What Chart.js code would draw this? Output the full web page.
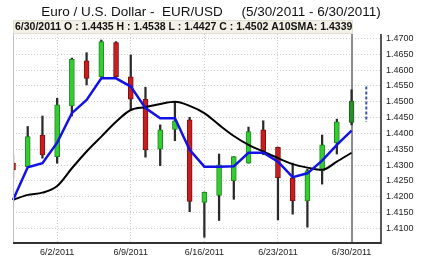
<!DOCTYPE html>
<html>
<head>
<meta charset="utf-8">
<script src="https://cdn.jsdelivr.net/npm/chart.js@4.4.1/dist/chart.umd.min.js"></script>
<style>
  html, body { margin: 0; padding: 0; background: #fff; }
  canvas { display: block; }
</style>
</head>
<body>
<canvas id="myChart" width="421" height="266"></canvas>
<script>
// trading days, plus two empty slots on the right
const dateLabels = ["5/30/2011", "5/31/2011", "6/1/2011", "6/2/2011", "6/3/2011",
    "6/6/2011", "6/7/2011", "6/8/2011", "6/9/2011", "6/10/2011",
    "6/13/2011", "6/14/2011", "6/15/2011", "6/16/2011", "6/17/2011",
    "6/20/2011", "6/21/2011", "6/22/2011", "6/23/2011", "6/24/2011",
    "6/27/2011", "6/28/2011", "6/29/2011", "6/30/2011", "7/1/2011", "7/4/2011"];
const tickLabels = ["6/2/2011", "6/9/2011", "6/16/2011", "6/23/2011", "6/30/2011"];

const openValues  = [1.4306, 1.4295, 1.4395, 1.4327, 1.4487, 1.4629, 1.4579, 1.4687, 1.4579, 1.4508,
    1.4350, 1.4413, 1.4443, 1.4182, 1.4204, 1.4251, 1.4306, 1.4411, 1.4356, 1.4260,
    1.4187, 1.4282, 1.4371, 1.4435];
const highValues  = [1.4332, 1.4422, 1.4455, 1.4511, 1.4638, 1.4655, 1.4695, 1.4690, 1.4648, 1.4546,
    1.4427, 1.4500, 1.4451, 1.4215, 1.4335, 1.4327, 1.4420, 1.4440, 1.4357, 1.4306,
    1.4287, 1.4395, 1.4445, 1.4538];
const lowValues   = [1.4260, 1.4295, 1.4322, 1.4306, 1.4455, 1.4553, 1.4579, 1.4579, 1.4474, 1.4325,
    1.4298, 1.4377, 1.4153, 1.4072, 1.4125, 1.4192, 1.4306, 1.4333, 1.4127, 1.4145,
    1.4104, 1.4240, 1.4335, 1.4427];
const closeValues = [1.4285, 1.4390, 1.4332, 1.4490, 1.4634, 1.4574, 1.4690, 1.4579, 1.4508, 1.4348,
    1.4411, 1.4440, 1.4185, 1.4214, 1.4301, 1.4327, 1.4406, 1.4343, 1.4260, 1.4187,
    1.4282, 1.4364, 1.4437, 1.4502];

const fastAverage = [1.4190, 1.4293, 1.4306, 1.4371, 1.4464, 1.4506, 1.4574, 1.4574, 1.4548, 1.4480,
    1.4448, 1.4448, 1.4348, 1.4295, 1.4295, 1.4296, 1.4339, 1.4339, 1.4311, 1.4262,
    1.4274, 1.4314, 1.4364, 1.4409];
const sma10 = [1.4190, 1.4206, 1.4213, 1.4234, 1.4290, 1.4343, 1.4390, 1.4437, 1.4474, 1.4483,
    1.4493, 1.4500, 1.4487, 1.4464, 1.4427, 1.4392, 1.4364, 1.4343, 1.4322, 1.4303,
    1.4292, 1.4285, 1.4311, 1.4339];

const rangeMarker = [1.4548, 1.4436];

const titleText = "Euro / U.S. Dollar -  EUR/USD     (5/30/2011 - 6/30/2011)";
const headerText = "6/30/2011 O : 1.4435 H : 1.4538 L : 1.4427 C : 1.4502 A10SMA: 1.4339";

const lastIndex = closeValues.length - 1;

let bodies = [];
let wicks = [];
let bodyColors = [];
let bodyBorders = [];
for (let i = 0; i < openValues.length; i++) {
    bodies.push([openValues[i], closeValues[i]]);
    wicks.push([lowValues[i], highValues[i]]);
    if (closeValues[i] >= openValues[i]) {
        bodyColors.push(i === lastIndex ? "#2e8b2e" : "#33cc33");
        bodyBorders.push(i === lastIndex ? "#1d5e1d" : "#1f8a1f");
    } else {
        bodyColors.push("#c81e1e");
        bodyBorders.push("#7a1010");
    }
}

const decorations = {
    id: "decorations",
    beforeDraw(chart) {
        const ctx = chart.ctx;
        ctx.save();
        ctx.fillStyle = "#fff";
        ctx.fillRect(0, 0, chart.width, chart.height);
        ctx.restore();
    },
    beforeDatasetsDraw(chart) {
        const { ctx, chartArea, scales } = chart;
        const cx = Math.round(scales.x.getPixelForValue(lastIndex));
        ctx.save();
        ctx.strokeStyle = "#8c8c8c";
        ctx.lineWidth = 2;
        ctx.beginPath();
        ctx.moveTo(cx, chartArea.top);
        ctx.lineTo(cx, chartArea.bottom);
        ctx.stroke();
        ctx.restore();
    },
    afterDraw(chart) {
        const { ctx, chartArea, scales } = chart;
        const cx = Math.round(scales.x.getPixelForValue(lastIndex));
        ctx.save();
        // axis lines
        ctx.strokeStyle = "#c0c0c0";
        ctx.lineWidth = 1;
        ctx.beginPath();
        ctx.moveTo(chartArea.left + 0.5, chartArea.top);
        ctx.lineTo(chartArea.left + 0.5, chartArea.bottom);
        ctx.stroke();
        ctx.strokeStyle = "#222";
        ctx.lineWidth = 1.5;
        ctx.beginPath();
        ctx.moveTo(chartArea.right, chartArea.top);
        ctx.lineTo(chartArea.right, chartArea.bottom + 1);
        ctx.stroke();
        ctx.strokeStyle = "#333";
        ctx.lineWidth = 2;
        ctx.beginPath();
        ctx.moveTo(chartArea.left, chartArea.bottom);
        ctx.lineTo(chartArea.right, chartArea.bottom);
        ctx.stroke();

        // header box with last values
        ctx.fillStyle = "#f3f1e7";
        ctx.fillRect(chartArea.left, 20, cx - chartArea.left + 1, 14);
        ctx.strokeStyle = "#e2dfd2";
        ctx.lineWidth = 1;
        ctx.strokeRect(chartArea.left + 0.5, 20.5, cx - chartArea.left, 13);
        ctx.fillStyle = "#111";
        ctx.font = "bold 10.5px 'Liberation Sans', Arial, sans-serif";
        ctx.textAlign = "left";
        ctx.textBaseline = "alphabetic";
        ctx.fillText(headerText, chartArea.left + 2, 30);

        // title
        ctx.fillStyle = "#111";
        ctx.font = "13.5px 'Liberation Sans', Arial, sans-serif";
        ctx.textAlign = "center";
        ctx.fillText(titleText, 211, 15.5);
        ctx.restore();
    }
};

new Chart("myChart", {
    type: "bar",
    data: {
        labels: dateLabels,
        datasets: [
            {
                type: "line",
                data: fastAverage,
                borderColor: "#1212e6",
                borderWidth: 2.5,
                pointRadius: 0,
                tension: 0
            },
            {
                type: "line",
                data: sma10,
                borderColor: "#000",
                borderWidth: 2,
                pointRadius: 0,
                cubicInterpolationMode: "monotone"
            },
            {
                type: "line",
                data: [{ x: "7/1/2011", y: rangeMarker[0] }, { x: "7/1/2011", y: rangeMarker[1] }],
                borderColor: "#3557b0",
                borderWidth: 2,
                borderDash: [3, 2],
                pointRadius: 0
            },
            {
                data: bodies,
                backgroundColor: bodyColors,
                borderColor: bodyBorders,
                borderWidth: 1,
                borderSkipped: false,
                barThickness: 5,
                grouped: false
            },
            {
                data: wicks,
                backgroundColor: "#2a2a2a",
                borderWidth: 0,
                barThickness: 1.6,
                grouped: false
            }
        ]
    },
    options: {
        responsive: false,
        animation: false,
        devicePixelRatio: 1,
        layout: { padding: { top: 34, left: 13, right: 0, bottom: 0 } },
        plugins: {
            legend: { display: false },
            tooltip: { enabled: false },
            title: { display: false }
        },
        scales: {
            x: {
                type: "category",
                offset: false,
                grid: {
                    offset: false,
                    drawTicks: false,
                    color: (c) => (c.tick && tickLabels.includes(dateLabels[c.tick.value])) ? "#cdcdcd" : "rgba(0,0,0,0)"
                },
                border: { display: false, dash: [1, 2] },
                ticks: {
                    autoSkip: false,
                    maxRotation: 0,
                    padding: 4,
                    color: "#222",
                    font: { size: 9, family: "'Liberation Sans', Arial, sans-serif" },
                    callback: function (value) {
                        let label = this.getLabelForValue(value);
                        return tickLabels.includes(label) ? label : "";
                    }
                },
                afterFit: (scale) => { scale.height = 23; }
            },
            y: {
                position: "right",
                min: 1.4054,
                max: 1.4714,
                grid: { color: "#cdcdcd", drawTicks: false },
                border: { display: false, dash: [1, 2] },
                ticks: {
                    stepSize: 0.005,
                    includeBounds: false,
                    padding: 5,
                    color: "#222",
                    font: { size: 9, family: "'Liberation Sans', Arial, sans-serif" },
                    callback: (v) => v.toFixed(4)
                },
                afterFit: (scale) => { scale.width = 40; }
            }
        }
    },
    plugins: [decorations]
});
</script>
</body>
</html>
